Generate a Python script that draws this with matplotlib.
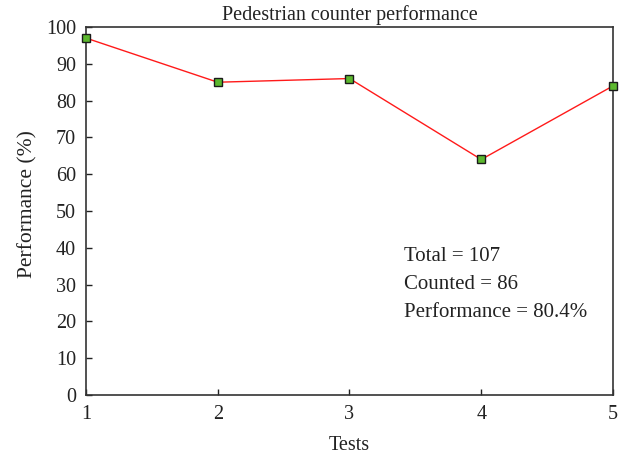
import matplotlib
matplotlib.use('Agg')
import matplotlib.pyplot as plt

# Data
tests = [1, 2, 3, 4, 5]
performance = [97, 85, 86, 64, 84]
summary_lines = ['Total = 107', 'Counted = 86', 'Performance = 80.4%']

plt.rcParams['font.family'] = ['Liberation Serif', 'DejaVu Serif']
txt = '#222222'

fig = plt.figure(figsize=(6.32, 4.58), dpi=100)
ax = fig.add_axes([0.136, 0.1376, 0.834, 0.8034])

ax.plot(tests, performance, color='#ff1a1a', linewidth=1.0, marker='s',
        markersize=5.5, markerfacecolor='#5cb82e', markeredgecolor='#1a1a1a',
        markeredgewidth=1.0, clip_on=False, zorder=5)

ax.set_xlim(1, 5)
ax.set_ylim(0, 100)
ax.set_xticks(tests)
ax.set_yticks(range(0, 101, 10))
ax.tick_params(direction='in', length=4, width=1, colors='#222222',
               labelsize=14.5, labelcolor=txt, pad=7)

for s in ax.spines.values():
    s.set_color('#333333')
    s.set_linewidth(1.2)

ax.set_title('Pedestrian counter performance', fontsize=14.5, color=txt, pad=5)
ax.set_xlabel('Tests', fontsize=14.5, color=txt, labelpad=9)
ax.set_ylabel('Performance (%)', fontsize=15.5, color=txt)
ax.yaxis.set_label_coords(-0.092, 0.52)

for i, line in enumerate(summary_lines):
    ax.text(3.41, 37.5 - i * 7.6, line, fontsize=15, color=txt, va='center', ha='left')

fig.savefig('out.png', dpi=100)
